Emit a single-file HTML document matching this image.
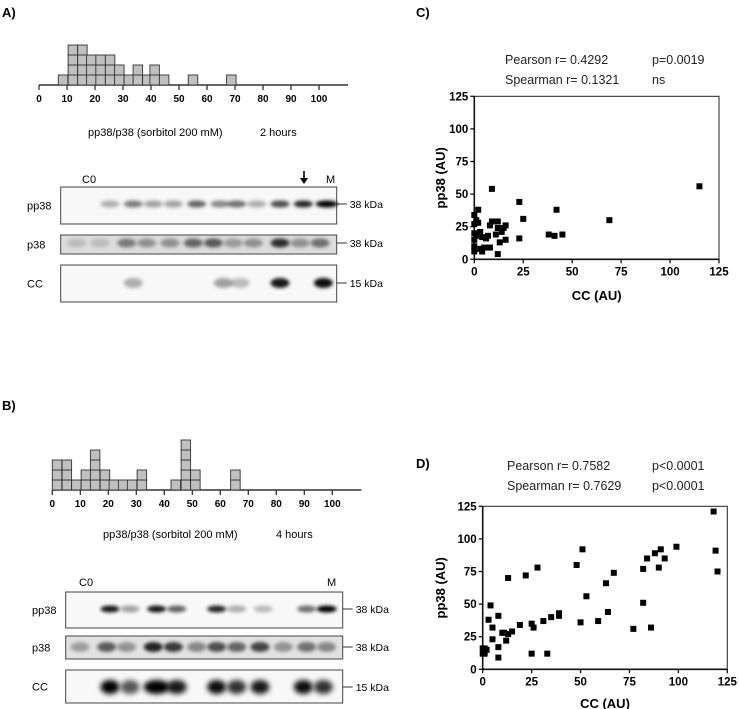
<!DOCTYPE html>
<html><head><meta charset="utf-8"><style>
html,body{margin:0;padding:0;background:#fff;}
svg{display:block;font-family:"Liberation Sans",Arial,sans-serif;}
</style></head><body>
<svg id="fig" width="739" height="709" viewBox="0 0 739 709">
<defs>
<filter id="blur" x="-50%" y="-100%" width="200%" height="300%"><feGaussianBlur stdDeviation="1.8"/></filter>
<filter id="blur2" x="-50%" y="-100%" width="200%" height="300%"><feGaussianBlur stdDeviation="2.6"/></filter>
</defs>
<text x="2" y="17" font-size="13" font-weight="bold">A)</text>
<text x="416" y="17" font-size="13" font-weight="bold">C)</text>
<text x="2" y="410" font-size="13" font-weight="bold">B)</text>
<text x="416" y="468" font-size="13" font-weight="bold">D)</text>

<g id="histA"></g>
<g id="histB"></g>
<text x="88" y="136" font-size="11">pp38/p38 (sorbitol 200 mM)</text>
<text x="260" y="136" font-size="11">2 hours</text>
<text x="103" y="538" font-size="11">pp38/p38 (sorbitol 200 mM)</text>
<text x="276" y="538" font-size="11">4 hours</text>

<g id="blotA"></g>
<g id="blotB"></g>

<text x="505" y="64" font-size="12.5" fill="#222">Pearson r= 0.4292</text>
<text x="652" y="64" font-size="12.5" fill="#222">p=0.0019</text>
<text x="505" y="84" font-size="12.5" fill="#222">Spearman r= 0.1321</text>
<text x="652" y="84" font-size="12.5" fill="#222">ns</text>
<text x="507" y="470" font-size="12.5" fill="#222">Pearson r= 0.7582</text>
<text x="652" y="470" font-size="12.5" fill="#222">p&lt;0.0001</text>
<text x="507" y="490" font-size="12.5" fill="#222">Spearman r= 0.7629</text>
<text x="652" y="490" font-size="12.5" fill="#222">p&lt;0.0001</text>

<g id="scatC"></g>
<g id="scatD"></g>
</svg>
<script>
// Histogram A data (bin start values, counts)
const histAStarts=[6.9,10.4,13.8,17.0,20.3,23.7,27.0,30.4,33.6,37.0,39.6,43.0,53.3,67.0];
const histACounts=[1,4,4,3,3,3,2,1,2,1,2,1,1,1];
// Histogram B data
const histBStarts=[0,3.5,6.9,10.3,13.6,17.1,20.3,23.6,26.8,30.3,42.4,46.0,49.4,63.7];
const histBCounts=[3,3,1,2,4,2,1,1,1,2,1,5,2,2];
const histTicks=[0,10,20,30,40,50,60,70,80,90,100];
// Scatter C
const cX=[0,0,0,0,0,0,1,2,2,1,3,4,3,4,5,6,7,8,8,9,9,12,11,12,12,13,14,15,16,16,23,23,25,38,41,42,45,69,115];
const cY=[34,27,20,15,10,6,30,38,28,18,21,17,8,6,9,16,18,9,26,29,54,29,19,24,4,13,21,24,15,26,44,16,31,19,18,38,19,30,56];
// Scatter D
const dX=[0,0,1,2,1,3,4,5,5,8,8,8,10,11,12,13,13,15,19,22,25,25,26,28,31,33,35,39,39,48,50,51,53,59,63,64,67,77,82,82,84,86,88,90,91,93,99,118,119,120];
const dY=[12,16,16,15,12,38,49,32,23,41,17,9,28,28,22,27,70,29,34,72,35,12,32,78,37,12,40,41,43,80,36,92,56,37,66,44,74,31,77,51,85,32,89,78,92,85,94,121,91,75];
const scatTicks=[0,25,50,75,100,125];

const NS='http://www.w3.org/2000/svg';
function mk(tag,attrs,parent){const e=document.createElementNS(NS,tag);for(const k in attrs)e.setAttribute(k,attrs[k]);parent.appendChild(e);return e;}

function hist(gid,x0,axisY,starts,counts){
  const g=document.getElementById(gid);
  const sx=v=>x0+v*2.8;
  mk('line',{x1:x0,y1:axisY,x2:x0+309,y2:axisY,stroke:'#333','stroke-width':1.5},g);
  histTicks.forEach(t=>{
    const tk=mk('line',{x1:sx(t),y1:axisY,x2:sx(t),y2:axisY+5,stroke:'#333','stroke-width':1.3},g);
    
    
    const tl=mk('text',{x:sx(t),y:axisY+17,'font-size':10,'font-weight':'bold','text-anchor':'middle'},g);
    tl.textContent=t;
    
    
  });
  starts.forEach((s,i)=>{
    for(let k=0;k<counts[i];k++){
      const r=mk('rect',{x:sx(s),y:axisY-10*(k+1),width:9.5,height:10,fill:'#c0c0c0',stroke:'#333','stroke-width':0.9},g);
      
      
    }
  });
}
hist('histA',39,85,histAStarts,histACounts);
hist('histB',52.3,490,histBStarts,histBCounts);

function scatter(gid,x0,x1,y0,y1,xs,ys,xlabY){
  const g=document.getElementById(gid);
  const sx=v=>x0+v/125*(x1-x0), sy=v=>y0-v/125*(y0-y1);
  mk('rect',{x:x0,y:y1,width:x1-x0,height:y0-y1,fill:'none',stroke:'#222','stroke-width':1},g);
  mk('line',{x1:x0,y1:y1,x2:x0,y2:y0,stroke:'#111','stroke-width':1.6},g);
  mk('line',{x1:x0,y1:y0,x2:x1,y2:y0,stroke:'#111','stroke-width':1.6},g);
  scatTicks.forEach(t=>{
    mk('line',{x1:sx(t),y1:y0,x2:sx(t),y2:y0+4,stroke:'#111','stroke-width':1.3},g);
    mk('line',{x1:x0-4,y1:sy(t),x2:x0,y2:sy(t),stroke:'#111','stroke-width':1.3},g);
    const a=mk('text',{x:sx(t),y:y0+16,'font-size':11.5,'font-weight':'bold','text-anchor':'middle'},g);
    a.textContent=t;
    
    
    const b=mk('text',{x:x0-6,y:sy(t)+4,'font-size':11.5,'font-weight':'bold','text-anchor':'end'},g);
    b.textContent=t;
    
    
  });
  const xl=mk('text',{x:(x0+x1)/2,y:xlabY,'font-size':13,'font-weight':'bold','text-anchor':'middle'},g);
  xl.textContent='CC (AU)';
  
  
  const yc=(y0+y1)/2;
  const yl=mk('text',{x:445,y:yc,'font-size':13,'font-weight':'bold','text-anchor':'middle',transform:`rotate(-90 445 ${yc})`},g);
  yl.textContent='pp38 (AU)';
  
  
  xs.forEach((v,i)=>{
    const p=mk('rect',{x:sx(v)-3,y:sy(ys[i])-3,width:6,height:6,fill:'#000'},g);
    
    
  });
}
scatter('scatC',474.3,719,259.3,96.3,cX,cY,300);
scatter('scatD',482.7,727.3,669.3,506.3,dX,dY,708);

// blot drawing (photographic content)
function blot(gid,x0,x1,rows,c0x,c0y,mx,arrow){
  const g=document.getElementById(gid);
  rows.forEach(r=>{
    mk('rect',{x:x0,y:r.y0,width:x1-x0,height:r.y1-r.y0,fill:r.bg,stroke:'#444','stroke-width':1},g);
    const t=mk('text',{x:r.lx,y:(r.y0+r.y1)/2+4,'font-size':11},g);
    t.textContent=r.name;
    
    
    mk('line',{x1:x1,y1:r.by,x2:x1+10,y2:r.by,stroke:'#333','stroke-width':1},g);
    const k=mk('text',{x:x1+13,y:r.by+4,'font-size':10.5},g);
    k.textContent=r.kda;
    
    
    r.bands.forEach(b=>{
      const bx=20+b[0]/3;
      const e=mk('ellipse',{cx:bx,cy:r.by,rx:(b[2]||9.5),ry:r.ry,fill:'#000','fill-opacity':b[1],filter:r.big?'url(#blur2)':'url(#blur)'},g);
      
      
    });
  });
  const c=mk('text',{x:c0x,y:c0y,'font-size':11},g);c.textContent='C0';
  const m=mk('text',{x:mx,y:c0y,'font-size':11},g);m.textContent='M';
  if(arrow){
    mk('line',{x1:arrow,y1:c0y-12,x2:arrow,y2:c0y-2,stroke:'#000','stroke-width':1.6},g);
    mk('path',{d:`M${arrow-4} ${c0y-5} L${arrow+4} ${c0y-5} L${arrow} ${c0y+1} Z`,fill:'#000'},g);
  }
}
blot('blotA',60.7,336.7,[
 {name:'pp38',lx:27,y0:187,y1:224,by:204,ry:3.5,bg:'#f8f8f8',kda:'38 kDa',bands:[[270,.3],[340,.5],[400,.35],[460,.35],[530,.6],[600,.45],[650,.55],[710,.3],[780,.7],[850,.85],[920,1,11]]},
 {name:'p38',lx:27,y0:235,y1:254,by:243,ry:4.5,bg:'#dcdcdc',kda:'38 kDa',bands:[[170,.15],[240,.15],[320,.45],[380,.35],[450,.35],[520,.55],[580,.6],[640,.3],[700,.35],[780,.8],[840,.35],[900,.5]]},
 {name:'CC',lx:27,y0:265,y1:302,by:283,ry:5,bg:'#f8f8f8',kda:'15 kDa',bands:[[340,.3],[610,.35],[660,.25],[780,.9],[910,.95]]}
],82,183,326,304);
blot('blotB',65.7,342.7,[
 {name:'pp38',lx:32,y0:592,y1:628,by:609,ry:3.5,bg:'#f8f8f8',kda:'38 kDa',bands:[[270,.9],[330,.35],[410,.9],[470,.6],[590,.85],[650,.3],[730,.25],[860,.55],[920,1,10]]},
 {name:'p38',lx:32,y0:636,y1:659,by:647,ry:5,bg:'#e2e2e2',kda:'38 kDa',bands:[[180,.3],[260,.6],[320,.35],[400,.85],[460,.75],[530,.4],[590,.65],[650,.55],[720,.7],[790,.35],[860,.5],[920,.4]]},
 {name:'CC',lx:32,y0:670,y1:703,by:687,ry:7,big:true,bg:'#f8f8f8',kda:'15 kDa',bands:[[270,1],[330,.65],[410,1,13],[470,.9,10],[590,.95],[650,.8],[720,.9],[850,.95],[910,.8]]}
],79,586,327,null);
</script>
</body></html>
